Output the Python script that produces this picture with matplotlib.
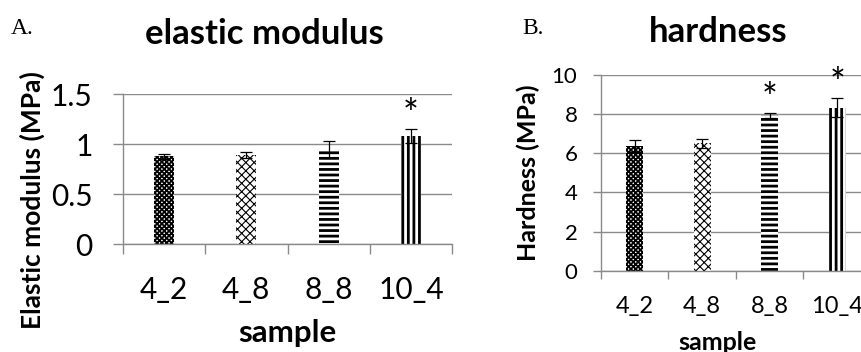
import numpy as np
import matplotlib
matplotlib.use('Agg')
import matplotlib.pyplot as plt

samples = ['4_2', '4_8', '8_8', '10_4']

modulus = [0.88, 0.89, 0.95, 1.08]
modulus_err = [0.025, 0.03, 0.085, 0.07]
modulus_star = [None, None, None, 1.38]

hardness = [6.38, 6.5, 7.95, 8.32]
hardness_err = [0.3, 0.25, 0.13, 0.48]
hardness_star = [None, None, 9.23, 10.0]

hatches = ['xxxxxxx', 'xxxx', '---', '|||']
hatch_lw = [1.3, 0.8, 2.0, 2.0]

GRID = '#8a8a8a'
FONT = 'Lato'

W, H = 862, 352
fig = plt.figure(figsize=(W / 100, H / 100), dpi=100)


def px_axes(left, top, right, bottom):
    return fig.add_axes([left / W, 1 - bottom / H, (right - left) / W, (bottom - top) / H])


def draw_panel(ax, values, errs, stars, ymax, ystep, fs_y, fs_x, tick_len, ypad, xpad):
    x = np.arange(len(samples))
    bars = ax.bar(x, values, width=0.245, color='white', edgecolor='black',
                  linewidth=0, zorder=2)
    for b, h, lw in zip(bars, hatches, hatch_lw):
        b.set_hatch(h)
        try:
            b.set_hatch_linewidth(lw)
        except AttributeError:
            pass
    ax.errorbar(x, values, yerr=errs, fmt='none', ecolor='black', elinewidth=0.9,
                capsize=4, capthick=0.9, zorder=3)
    for xi, s in zip(x, stars):
        if s is not None:
            ax.annotate('*', (xi, s), xytext=(0, -15), textcoords='offset points',
                        ha='center', va='baseline', fontsize=27, family=FONT,
                        zorder=4)

    ax.set_xlim(-0.5, len(samples) - 0.5)
    ax.set_ylim(0, ymax)
    ax.set_yticks(np.arange(0, ymax + ystep / 2, ystep))
    ax.set_xticks(x)
    ax.set_xticklabels(samples)
    ax.set_xticks(np.arange(-0.5, len(samples)), minor=True)
    ax.yaxis.grid(True, color=GRID, linewidth=1, zorder=0)
    ax.set_axisbelow(True)
    for s in ['top', 'right']:
        ax.spines[s].set_visible(False)
    for s in ['left', 'bottom']:
        ax.spines[s].set_color(GRID)
        ax.spines[s].set_linewidth(1)
    ax.tick_params(axis='x', which='major', length=0, pad=xpad, labelsize=fs_x)
    ax.tick_params(axis='x', which='minor', length=tick_len, color=GRID, width=1)
    ax.tick_params(axis='y', length=tick_len, color=GRID, width=1, pad=ypad,
                   labelsize=fs_y)
    for lab in ax.get_xticklabels() + ax.get_yticklabels():
        lab.set_family(FONT)


axA = px_axes(123, 94, 452, 244)
draw_panel(axA, modulus, modulus_err, modulus_star, 1.5, 0.5,
           fs_y=21.5, fs_x=21.5, tick_len=7, ypad=15, xpad=23)
axA.set_yticklabels(['0', '0.5', '1', '1.5'])

axB = px_axes(601, 75, 871, 270.7)
draw_panel(axB, hardness, hardness_err, hardness_star, 10, 2,
           fs_y=16, fs_x=17, tick_len=6, ypad=11, xpad=18)

fig.text(11 / W, 1 - 28 / H, 'A.', family='Liberation Serif', fontsize=17,
         ha='left', va='center')
fig.text(522 / W, 1 - 28 / H, 'B.', family='Liberation Serif', fontsize=17,
         ha='left', va='center')

fig.text(264 / W, 1 - 34 / H, 'elastic modulus', family=FONT, weight='bold',
         fontsize=25, ha='center', va='center')
fig.text(718 / W, 1 - 32 / H, 'hardness', family=FONT, weight='bold',
         fontsize=25, ha='center', va='center')

fig.text(287 / W, 1 - 333 / H, 'sample', family=FONT, weight='bold',
         fontsize=22.5, ha='center', va='center')
fig.text(718 / W, 1 - 342 / H, 'sample', family=FONT, weight='bold',
         fontsize=18, ha='center', va='center')

fig.text(32 / W, 1 - 200 / H, 'Elastic modulus (MPa)', family=FONT, weight='bold',
         fontsize=19, rotation=90, ha='center', va='center')
fig.text(528 / W, 1 - 173 / H, 'Hardness (MPa)', family=FONT, weight='bold',
         fontsize=18, rotation=90, ha='center', va='center')

fig.savefig('out.png', dpi=100)
